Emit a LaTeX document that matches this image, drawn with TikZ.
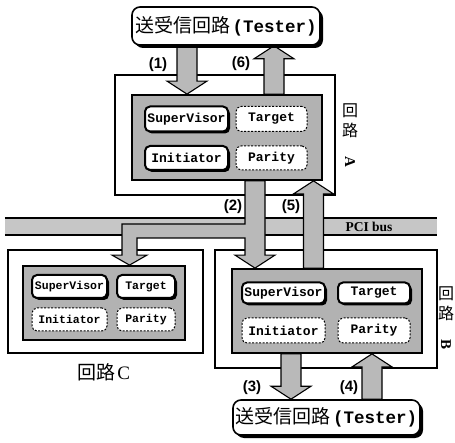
\documentclass[tikz,border=0pt]{standalone}
\usepackage{fontspec}
\setmainfont{Liberation Serif}
\newfontfamily\cjk{Noto Sans CJK JP}
\newfontfamily\monof{Liberation Mono}
\newfontfamily\labf{Liberation Sans}
\usetikzlibrary{shadows,calc}
\pgfdeclarelayer{back}
\pgfdeclarelayer{mid}
\pgfsetlayers{back,mid,main}
\newcommand\fatv[2]{%
  \draw[fatarrow] let \p1=#1, \p2=#2, \p3=($#2!13pt!#1$) in
    (\x1-10pt,\y1) -- (\x1-10pt,\y3) -- (\x1-20pt,\y3) -- (\x1,\y2) --
    (\x1+20pt,\y3) -- (\x1+10pt,\y3) -- (\x1+10pt,\y1) -- cycle;}
\begin{document}
\begin{tikzpicture}[x=1pt,y=-1pt,
  outerbox/.style={draw, line width=1.2pt, fill=white, inner sep=0},
  panel/.style={draw, line width=1.8pt, fill=gray!60, inner sep=0},
  solidbox/.style={draw, line width=2pt, fill=white, rounded corners=5pt, inner sep=0,
    drop shadow={shadow xshift=2pt, shadow yshift=-2pt, fill=black, opacity=1}},
  dashbox/.style={draw, line width=1pt, dash pattern=on 2pt off 1.5pt, fill=white, rounded corners=5pt, inner sep=0},
  tester/.style={draw, line width=1.6pt, fill=white, rounded corners=8pt, inner sep=0,
    drop shadow={shadow xshift=3pt, shadow yshift=-3pt, fill=black, opacity=1}},
  fatarrow/.style={draw, fill=gray!55, line width=1.1pt, line join=miter},
  num/.style={font=\labf\bfseries\fontsize{15}{15}\selectfont, inner sep=0},
  bigmono/.style={font=\monof\bfseries\fontsize{13}{13}\selectfont},
  smallmono/.style={font=\monof\bfseries\fontsize{11.5}{11.5}\selectfont},
  vlabel/.style={align=center, inner sep=0, font=\cjk\fontsize{16}{20}\selectfont}
]
\useasboundingbox (0,0) rectangle (455,443);

% ---------- back layer: outer boxes and bus ----------
\begin{pgfonlayer}{back}
\node[outerbox, minimum width=220pt, minimum height=120pt] (oA) at (225,135) {};
\node[outerbox, minimum width=222pt, minimum height=118pt] (oB) at (326,309) {};
\node[outerbox, minimum width=195pt, minimum height=103pt] (oC) at (105.5,301.5) {};
\node[fill=gray!45, minimum width=432pt, minimum height=17pt, inner sep=0] (bus) at (221,226.5) {};
\draw[line width=1.5pt] (bus.north west) -- (bus.north east) (bus.south west) -- (bus.south east);
\end{pgfonlayer}
\node[font=\bfseries\fontsize{13.5}{13.5}\selectfont, inner sep=0] (pcilbl) at (369,226.5) {PCI bus};

% ---------- panels ----------
\node[panel, minimum width=190pt, minimum height=85pt] (pA) at (227,137.5) {};
\node[panel, minimum width=190pt, minimum height=84pt] (pB) at (327,311) {};
\node[panel, minimum width=162pt, minimum height=74pt] (pC) at (104,303) {};

% ---------- testers ----------
\node[tester, minimum width=188pt, minimum height=38pt] (tA) at (226,26)
  {{\cjk\fontsize{19}{19}\selectfont 送受信回路} {\monof\bfseries\fontsize{17.5}{17.5}\selectfont (Tester)}};
\node[tester, minimum width=187pt, minimum height=35pt] (tB) at (326.5,417.5)
  {{\cjk\fontsize{19}{19}\selectfont 送受信回路} {\monof\bfseries\fontsize{17.5}{17.5}\selectfont (Tester)}};

% ---------- circuit A ----------
\node[solidbox, bigmono, minimum width=83pt, minimum height=25pt] (svA) at (186.5,119) {SuperVisor};
\node[dashbox, bigmono, minimum width=71pt, minimum height=25pt] (tgA) at (271.5,119) {Target};
\node[solidbox, bigmono, minimum width=83pt, minimum height=24pt] (inA) at (186.5,158) {Initiator};
\node[dashbox, bigmono, minimum width=71pt, minimum height=24pt] (paA) at (271.5,158) {Parity};

% ---------- circuit B ----------
\node[solidbox, bigmono, minimum width=83pt, minimum height=21pt] (svB) at (283.5,293) {SuperVisor};
\node[solidbox, bigmono, minimum width=72pt, minimum height=21pt] (tgB) at (374,293) {Target};
\node[dashbox, bigmono, minimum width=83pt, minimum height=25pt] (inB) at (283.5,330.5) {Initiator};
\node[dashbox, bigmono, minimum width=72pt, minimum height=25pt] (paB) at (374,330.5) {Parity};

% ---------- circuit C ----------
\node[solidbox, smallmono, minimum width=75pt, minimum height=23pt] (svC) at (69.5,286.5) {SuperVisor};
\node[solidbox, smallmono, minimum width=58pt, minimum height=23pt] (tgC) at (146,286.5) {Target};
\node[dashbox, smallmono, minimum width=75pt, minimum height=23pt] (inC) at (69.5,319.5) {Initiator};
\node[dashbox, smallmono, minimum width=58pt, minimum height=23pt] (paC) at (146,319.5) {Parity};

% ---------- labels ----------
\node[inner sep=0] (lC) at (104,372) {{\cjk\fontsize{19}{19}\selectfont 回路}\,{\fontsize{19}{19}\selectfont C}};
\node[vlabel] (lA) at (350,136) {回\\路\\\rotatebox{-90}{\rmfamily\bfseries\fontsize{15}{15}\selectfont A}};
\node[vlabel] (lB) at (446,318) {回\\路\\\rotatebox{-90}{\rmfamily\bfseries\fontsize{15}{15}\selectfont B}};

\node[num] (n1) at (158,65) {(1)};
\node[num] (n6) at (241,64) {(6)};
\node[num] (n2) at (233,207) {(2)};
\node[num] (n5) at (291,207) {(5)};
\node[num] (n3) at (252,388) {(3)};
\node[num] (n4) at (349,388) {(4)};

% ---------- arrow x positions ----------
\coordinate (x1) at (187,0);
\coordinate (x6) at (274,0);
\coordinate (x2) at (255,0);
\coordinate (x5) at (313.5,0);
\coordinate (x3) at (291,0);
\coordinate (x4) at (372,0);
\coordinate (xb) at (129.5,0);

% ---------- fat arrows ----------
\begin{pgfonlayer}{mid}
\fatv{(tA.south -| x1)}{(pA.north -| x1)}
\fatv{(pA.north -| x6)}{(tA.south -| x6)}
\fatv{(pB.north -| x5)}{(pA.south -| x5)}
\fatv{(pB.south -| x3)}{(tB.north -| x3)}
\fatv{(tB.north -| x4)}{(pB.south -| x4)}
% arrow (2) with branch to circuit C
\draw[fatarrow] let \p1=(pA.south -| x2), \p2=(pB.north -| x2), \p3=(pC.north -| xb) in
  (\x1-10pt,\y1) -- (\x1-10pt,-224pt) -- (\x3-7.5pt,-224pt) -- (\x3-7.5pt,\y3+10pt)
  -- (\x3-17.5pt,\y3+10pt) -- (\x3,\y3) -- (\x3+17.5pt,\y3+10pt) -- (\x3+7.5pt,\y3+10pt)
  -- (\x3+7.5pt,-238pt) -- (\x1-10pt,-238pt) -- (\x1-10pt,\y2+13pt) -- (\x1-20pt,\y2+13pt)
  -- (\x1,\y2) -- (\x1+20pt,\y2+13pt) -- (\x1+10pt,\y2+13pt) -- (\x1+10pt,\y1) -- cycle;
\end{pgfonlayer}
\end{tikzpicture}
\end{document}
